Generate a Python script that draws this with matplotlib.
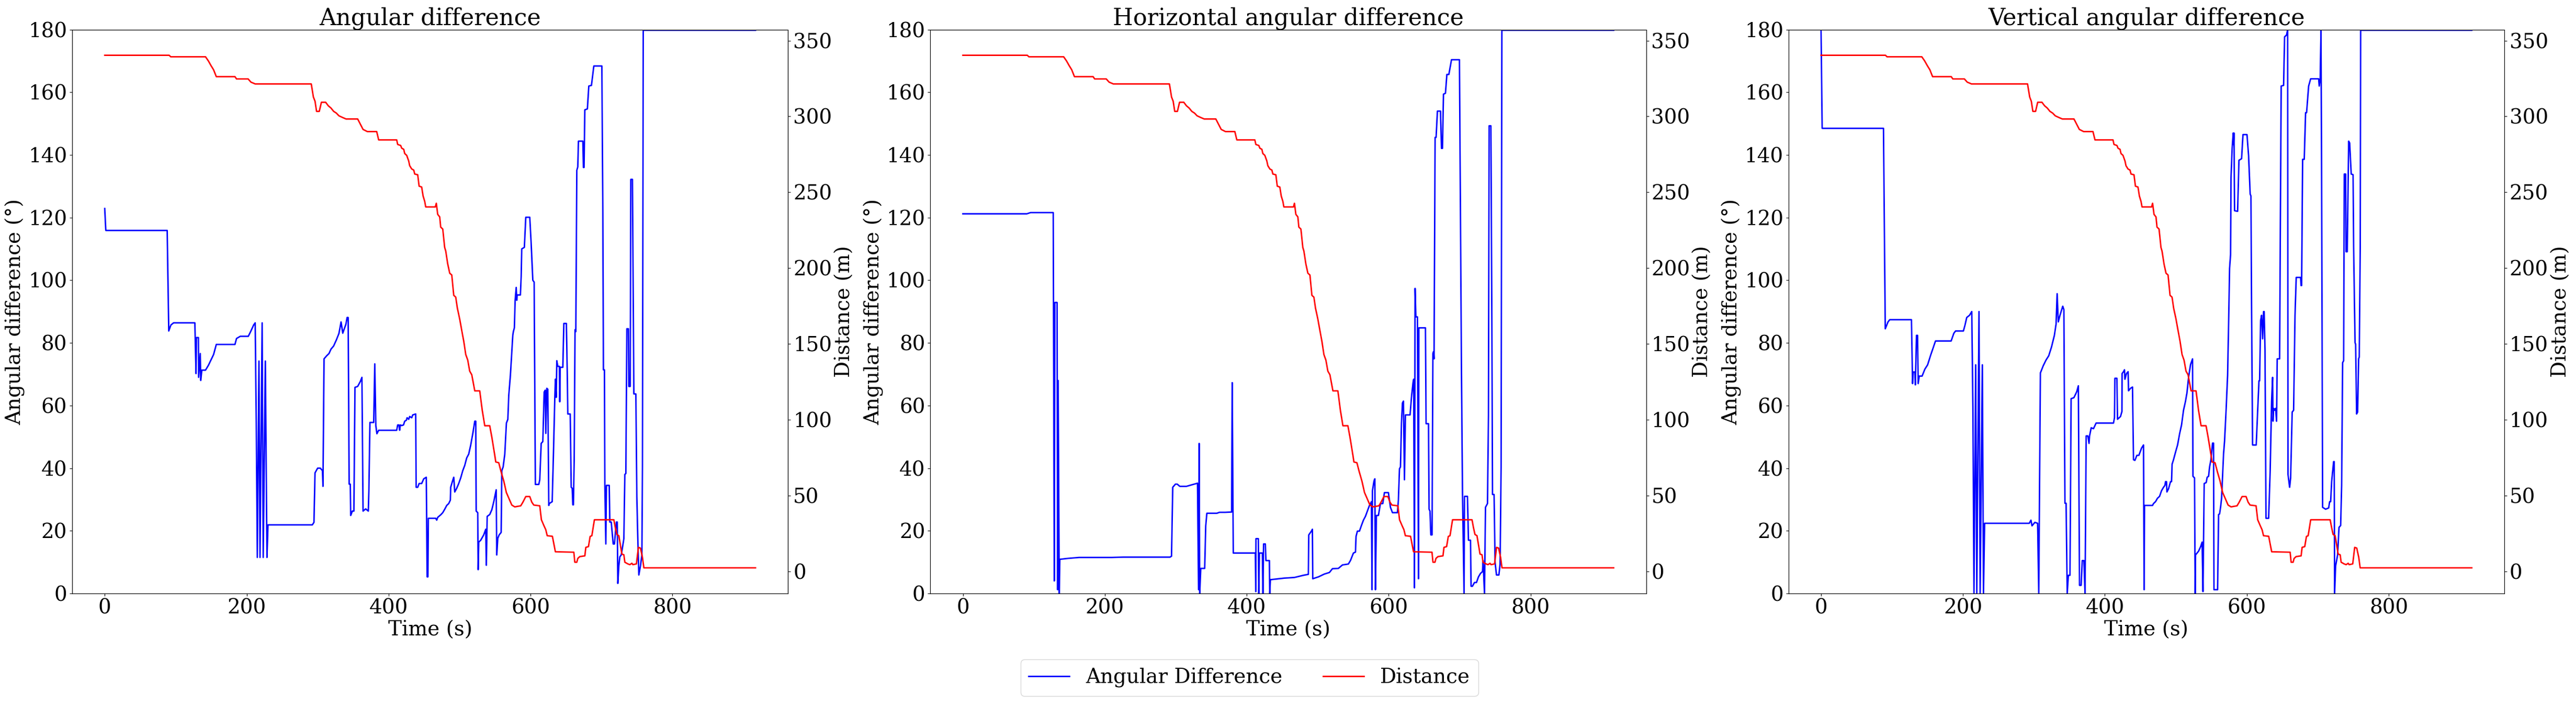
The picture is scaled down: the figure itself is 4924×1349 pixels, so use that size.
import matplotlib
matplotlib.use("Agg")
from matplotlib import pyplot as plt

plt.rcParams['font.family'] = 'serif'
plt.rcParams['font.serif'] = ['DejaVu Serif']
plt.rcParams['font.size'] = 28

# distance to target (m), same for all panels: (time s, value)
dist = [(0,340.3),(90.8,340.3),(93,339.3),(142,339.3),(146,336.6),(149.6,333.6),(153.4,330.7),(157.2,326.2),
        (183.5,326.2),(185.7,324.7),(202,324.7),(206,322.6),(212,321.4),(291,321.4),(294,312.8),(296.3,310),
        (298.5,303.3),(302.3,303.3),(305.3,309.3),(311.3,309.3),(315,307),(318.8,305.5),(322.6,303.3),(326.3,302.2),
        (330,300.4),(335,299.3),(340,298.3),(356.4,298.3),(360,295),(364,291.4),(370,290),(383.2,290),(386,284.5),
        (411.4,284.5),(412.8,281.5),(417,280.8),(418.5,279),(421.3,278.3),(422.7,275.5),(425.5,274.3),(428.3,270.6),
        (429.7,267.5),(432.6,265.3),(435.4,264.6),(436.8,262),(441,261.5),(443,254),(446.6,253.4),(448.6,247.5),
        (450.9,243.9),(452.3,240.3),(465.8,240.3),(467.2,242.7),(469.2,235.4),(472,233.7),(473.4,227),(476.3,225.7),
        (479,213.6),(480.5,211.2),(483.3,202.7),(486.1,196.6),(489,195.4),(491.8,182),(494.6,180.8),(496.9,173.5),
        (500.2,166.3),(503,159),(505.9,151.7),(508.7,143),(511.5,139.3),(514.3,132),(517.2,129.6),(521.4,119),
        (528.4,119),(532,106),(535.5,96),(542.5,96),(545.4,88.6),(549.6,76.5),(551,72.1),(555.2,71.6),(558.6,65.5),
        (562.3,59.5),(565.9,52),(569.3,48.3),(573.6,43.7),(577.8,42.5),(586.2,43.2),(589,45.4),(593.3,49.3),
        (598.9,49.3),(601.8,45.6),(604.6,43.7),(613,43.2),(615.3,34),(618.7,30.3),(621.5,27.4),(623.5,23.5),
        (630.8,23.1),(635,12.9),(661,12.6),(662.4,6),(665.2,6),(666.6,8.5),(669.4,9.7),(676.5,10.2),(677.9,15.8),
        (681.6,16.3),(684,23),(686.4,23.5),(690,34),(717.4,34),(719.4,29),(721.6,24.3),(724.4,23.5),(726.7,17),
        (728.7,11.4),(731.5,10.9),(732.9,6),(737.1,4.9),(739.9,4.4),(742.8,5.3),(744.2,4.4),(749.2,4.9),(752,15.8),
        (754.9,15.3),(757.7,9.2),(759.7,2.3),(917,2.3)]

# angular difference (deg)
ang = [(0,122.9),(1.5,115.9),(88,115.9),(90.2,83.8),(93.2,85.7),(97,86.4),(127,86.4),(128.6,70.2),(129.3,81.7),
       (132,81.7),(132.3,69),(134.6,76.6),(135.3,68),(136.8,71.3),(142,71.3),(146,72.8),(149.6,74.5),(153.4,76.3),
       (157.2,79.5),(183.5,79.5),(185.7,81.4),(191,82.1),(202.3,82.1),(206,83.8),(209.8,85.7),(212,86.4),(213.5,54.3),
       (215,11.5),(217.3,74.2),(218.8,11.5),(221.8,86.4),(223.3,11.5),(226.3,74.2),(228.6,11.5),(230,21.9),(292.5,21.9),
       (294.8,22.7),(296.3,38.5),(300,40),(303.8,40),(306.8,39.2),(307.5,34.2),(309,74.9),(312.8,75.9),(316,76.6),
       (318.8,78),(322.5,79),(326.3,80.9),(330,83),(333,86.7),(335.4,83.1),(339.9,86),(341.5,88.1),(343,88.1),
       (344.4,34.9),(346,34.9),(346.6,24.9),(348.9,26.3),(351.1,26.3),(352.6,65.8),(356.4,66.1),(360.2,67.7),
       (362.4,69),(364,26.3),(367.7,27),(371.4,26.3),(372.2,32.8),(373.7,54.6),(379,54.6),(380.5,73.3),(382,53.6),
       (383.5,51),(386,52.1),(411.4,52.1),(412.8,53.8),(414.5,53.8),(415.6,52.1),(416.5,53.8),(418.5,53.6),(421,53.8),
       (422.7,55),(425,55.3),(426.1,56.1),(428.3,55.6),(429.7,56.5),(432.6,56.1),(434,57),(438.2,57.3),(438.8,33.9),
       (441,33.9),(443,35.1),(446.6,35.1),(449.5,36.6),(453.1,37.1),(454.3,5.3),(455.4,5.3),(456,24),(466.4,24),
       (467.8,23.4),(469.2,24.3),(473.4,25.1),(476.3,25.8),(479.1,26.9),(481.9,28.1),(484.7,28.7),(487,29.8),
       (487.5,33.9),(489.8,35.7),(491.8,37.1),(493.2,32.4),(496,33.6),(498.8,35.1),(501.6,36.9),(504.5,39.2),
       (507.3,40.9),(510.1,43.3),(512.9,44.5),(515.7,47.4),(518.6,51),(521.4,55),(522.8,55),(523.4,26.3),
       (525.6,25.8),(526.2,7.6),(527,16.4),(529.8,17),(534,18.7),(536.9,20.5),(537.7,9),(538.9,24.6),(542.5,25.2),
       (545.4,26.7),(548.2,29.3),(551.6,33.1),(552.4,12.3),(553.8,17.6),(555.8,18.7),(558.6,19.5),(559.5,39.2),
       (561.4,40.4),(563.7,44.5),(566,54.4),(568,55.6),(569.3,63.2),(571.6,69.6),(575,82.4),(575.8,83.6),(577.2,84.8),
       (578.3,93.6),(579.8,97.7),(580.6,93.6),(581.2,95.3),(585.7,95.3),(586.8,101.2),(587.6,110),(591.3,110.5),
       (593.3,120.1),(598.9,120.1),(600.9,111.7),(603.2,100),(605.1,99.4),(606,63.7),(606.8,34.8),(611.6,34.8),
       (613,36.3),(615,47.9),(617.3,48.5),(619.2,64.3),(620.7,64.9),(621.5,51.1),(622.9,65.5),(624.3,65.2),
       (625.7,28.1),(626.3,28.7),(630.5,29.3),(632.2,43.9),(634.2,62.6),(635,68.4),(636.2,62.6),(637,74.3),
       (638.4,72.5),(640.7,72.5),(641.2,61.2),(641.8,72.2),(645.5,72.2),(646.9,86.2),(650.5,86.2),(651.7,70.8),
       (652.5,57.3),(655.9,57.3),(657.3,33.9),(658.7,33.6),(659.6,28.3),(660.4,28.3),(661.5,42.7),(662.7,84.2),
       (663.8,83.6),(665.2,135.1),(666.6,136.2),(667.5,144.4),(673.7,144.4),(674.5,136),(675.4,136),(676.5,154.4),
       (680.1,154.7),(682.1,162),(685.8,162.2),(689.2,168.4),(700.5,168.4),(701.9,121.6),(702.7,71.4),(704.1,71.4),
       (704.7,34.5),(706.1,15.8),(706.9,34.5),(710.9,34.5),(711.7,22.8),(713.7,22.8),(716.5,15.8),(718.2,15.8),
       (719.3,18.7),(721,22.8),(722.2,22.8),(723,3.2),(724.4,8.8),(725.8,11.7),(727.8,12.3),(729.5,14.6),
       (731.5,17.5),(732.9,38),(734.3,38.3),(735.7,84.5),(737.9,84.5),(738.5,66.1),(740.5,66.1),(741.3,132.2),
       (743.6,132.2),(745.6,63.7),(748.4,63.7),(749.8,31),(751.2,17),(752.6,5.9),(754.9,8.8),(756.9,12.3),
       (757.7,40.4),(758.8,179.8),(917,179.8)]

# horizontal angular difference (deg)
hor = [(0,121.2),(90,121.2),(95.4,121.6),(127.3,121.6),(128.8,4),(129.6,92.9),(132.7,92.9),(133.5,1.2),(134.2,68),
       (135.8,0),(136.6,10.9),(148.2,11.2),(163.7,11.5),(210,11.5),(225.8,11.6),(291.8,11.6),(294,11.9),(295.7,33.9),
       (299.5,34.9),(302,34.9),(305.7,34.2),(315,34.2),(330.6,35.2),(332.1,1.2),(332.9,47.9),(333.7,0),(335.2,8),
       (340.7,8),(342.2,21.6),(343.8,25.6),(357.7,25.6),(361.6,25.9),(369.4,25.9),(378.7,26),(379.5,67.3),(381,12.9),
       (412.1,12.9),(412.7,0.6),(413,17.5),(416.3,17.5),(416.9,0),(417.8,12.9),(422,12.9),(422.8,0),(423.7,15.8),
       (426.2,15.8),(427,10.5),(431.9,10.5),(432.4,0),(433.3,4.4),(453,4.9),(467.1,5.1),(479.8,5.8),(486.8,6.1),
       (487.4,18.7),(491.1,19.9),(492.5,20.5),(493,4.7),(501,5.3),(509.4,6.2),(516.5,6.7),(520.7,7.9),(529.1,8),
       (534.8,9.1),(543.2,9.4),(546.1,10.5),(550.3,12.9),(553.2,13.2),(554,18.2),(555.9,19.9),(558.8,19.9),
       (561.6,21.7),(564.4,23.4),(567.2,24.6),(570,26.3),(572.9,28.1),(575.7,29.3),(576.5,1.2),(577.1,32.8),
       (579.3,35.9),(580.5,36.6),(581.3,1.2),(582.7,24.9),(585.5,24.9),(588.4,28.7),(591.7,28.7),(594,32.2),
       (599.6,32.2),(602.5,27.5),(605.3,25.8),(612.3,25.8),(613.7,29.9),(615.2,39.8),(616.6,40.4),(618,54.4),
       (619.4,60.8),(620.8,61.4),(622.2,36.3),(623.6,57),(630.1,57),(632.1,62.6),(634.3,67.3),(635.2,68.4),
       (636.3,1.8),(637.2,97.4),(638.3,88.3),(640.5,88.3),(642,4.7),(642.5,84.8),(651.8,84.8),(652.7,54.2),
       (656.1,54.2),(656.9,26.9),(658.2,26.3),(659.4,18.7),(661.1,18.7),(662.3,76.6),(663.2,77.2),(663.9,74.9),
       (665.4,145.6),(666.8,145.6),(668.7,154),(673,154),(674.4,142.1),(675.8,142.1),(677.2,159.4),(680,159.7),
       (682,165.7),(684.8,165.7),(688.5,170.4),(699.7,170.4),(701.2,117.6),(702.6,70.2),(704,32.2),(706.2,0),
       (706.8,31),(711,31),(712.4,17),(715.3,17),(716.1,2.3),(718,2.3),(720.9,3.5),(723.7,3.5),(726.5,5.3),
       (729.4,6.4),(732.2,7),(733,10.5),(735,0),(736.4,27.5),(739.2,28.7),(740.6,56.8),(741.5,149.3),(744,149.3),
       (745.4,87.1),(746.3,31.6),(748.5,31.6),(749.9,10),(751.9,5.9),(755.3,5.9),(757,9.4),(758.4,40.4),
       (759.5,179.8),(917,179.8)]

# vertical angular difference (deg)
ver = [(0,180),(1.6,148.5),(88,148.5),(90.5,84.5),(94.4,86.7),(96.8,87.4),(127.4,87.4),(129,67),(129.8,70.7),
       (132.1,70.7),(132.9,66.6),(134.5,82.4),(136,82.4),(136.9,67),(138.4,69.4),(142.4,69.4),(146.3,71.6),
       (150.2,73),(154.2,75.9),(158.1,78.5),(161.3,80.6),(183.3,80.6),(187.2,83.1),(189.6,83.8),(200.6,83.8),
       (202.9,85.7),(205.3,88.1),(209.2,88.8),(212.4,90),(214,59.4),(215.5,0),(217.9,73),(219.5,0),(222.6,90),
       (224.2,0),(227.3,73),(228.9,0),(230.5,22.4),(293.4,22.4),(295.8,23.4),(297.3,21.6),(301.3,22.7),(305.2,22.4),
       (306.8,0),(309.1,70.4),(313.1,72.7),(317,74.5),(320.9,75.9),(324.9,78.8),(328.8,82.4),(331.2,86),(332.7,95.7),
       (334.3,86.7),(336.7,88.8),(340.6,91.7),(342.2,90.6),(343.7,28.8),(345.3,28.8),(346.9,0),(348.5,5.8),
       (350.8,5.8),(352.4,62.2),(356.3,62.5),(360.3,64.4),(362.6,66.3),(364.2,2.6),(366.5,2.6),(368.1,10.5),
       (370.4,10.5),(372,0),(373.6,50.3),(376,50.3),(377.6,47.9),(378.4,50.3),(380.7,52.9),(383.9,52.6),(387.6,54.4),
       (412.1,54.4),(413.5,56.1),(414.1,68.7),(416.9,68.7),(417.8,55.6),(422,56.5),(424,58.1),(424.2,70.2),
       (426.2,70.8),(427.6,71.4),(428.2,68.4),(430.4,70.2),(432.7,70.8),(433.3,64.7),(436.1,65.5),(438.9,65.9),
       (440.3,42.7),(442.3,42.5),(445.1,44.1),(447.9,44.1),(451.6,46.4),(454.4,47.4),(455.3,1.2),(455.8,28.1),
       (467.1,28.1),(468.5,28.7),(471.3,29.3),(474.1,30.4),(477,31),(479.8,32.8),(482.6,33.9),(484.6,34.5),
       (485.4,35.7),(486.8,35.7),(487.4,32.4),(489.6,33.4),(492.5,35.7),(493.9,35.7),(494.7,41.3),(496.7,42.7),
       (499.5,45.1),(502.4,47.4),(505.2,50.9),(508,53.8),(510.8,58.5),(513.6,61.4),(515.6,64),(517.9,69),
       (520.7,73.1),(523.5,74.9),(524.1,37.4),(526.3,36.9),(527.2,0),(527.7,12.3),(532,13.5),(534.8,14.9),
       (537,16.4),(538.2,0.6),(539.9,35.1),(542.7,35.4),(544.1,37.1),(546.1,37.4),(547.5,40.4),(549.4,42.7),
       (551.7,48),(553.1,48),(553.7,1.2),(558.8,1.2),(560.2,25.2),(561.6,25.4),(563,27.5),(564.4,30.4),(567.2,44.5),
       (568.6,48.6),(570.9,59.1),(572.9,69.6),(574.3,86),(575.7,103.8),(577.1,108.2),(577.7,132.8),(579.3,142.1),
       (580.8,147),(581.3,143.3),(581.9,147),(582.7,122.2),(587,122),(588.9,138.3),(592.6,138.8),(594.6,146.5),
       (600.2,146.5),(602.5,139.7),(604.7,127.5),(605.8,126.9),(606.7,90.7),(608.1,47.4),(613.2,47.4),(615.2,57.9),
       (617.1,67.9),(618,67.9),(619.4,87.1),(620.8,88.8),(622.2,81.3),(623.6,90),(624.4,90),(625.6,77.8),(627,24),
       (630.7,24),(632.9,39.2),(634.9,61.4),(636.3,69),(636.9,55),(637.7,59.1),(639.1,58.5),(640.5,59.1),(641.9,55),
       (642.8,74.9),(646.2,74.9),(647.6,132.7),(648.4,162),(651.8,162.2),(653.2,177.7),(656,178.3),(657.5,180),
       (658,38),(660.3,33.9),(661.7,36.9),(663.9,57.9),(665.9,58.5),(667.9,88.8),(669.6,100.9),(675.8,100.9),
       (676.4,98.3),(677.2,98.3),(678.6,138.6),(680.9,138.6),(682.8,153.5),(684.2,153.5),(687.1,162),(689.9,164.3),
       (701.2,164.3),(702,162),(703.4,164.3),(704.5,180),(705.4,129.8),(706.8,27.5),(711,26.9),(715.3,27.3),
       (716.7,29.3),(718.1,29.3),(719.5,35.7),(722.3,42.1),(723.1,42.1),(723.7,0),(725.1,8.8),(727.9,12.3),
       (729.9,21.1),(732.2,21.7),(733.6,34.5),(735,73.7),(736.4,74.3),(737.3,133.9),(739.2,133.9),(739.8,109.1),
       (741.5,109.1),(743.5,144.4),(744.9,143.8),(747.1,133.9),(749.7,133.7),(750.5,110.5),(752.5,80.1),
       (753.3,79.5),(754.7,57.3),(756.1,57.9),(757.5,74.9),(758.4,75.5),(759.8,110.5),(760.4,179.8),(917,179.8)]

titles = ["Angular difference", "Horizontal angular difference", "Vertical angular difference"]
series = [ang, hor, ver]

dist_t = [p[0] for p in dist]
dist_v = [p[1] for p in dist]

fig = plt.figure(figsize=(49.24, 13.49), dpi=100)
fig.subplots_adjust(left=0.02803, right=0.97218, top=0.958, bottom=0.1594, wspace=0.1988)

for i in range(3):
    ax = fig.add_subplot(1, 3, i + 1)
    t = [p[0] for p in series[i]]
    v = [p[1] for p in series[i]]
    l1, = ax.plot(t, v, color='b', linewidth=2, label='Angular Difference')
    ax.set_ylim(0, 180)
    ax.set_xlabel("Time (s)")
    ax.set_ylabel("Angular difference (°)")
    ax.set_title(titles[i], fontsize=32)
    ax2 = ax.twinx()
    l2, = ax2.plot(dist_t, dist_v, color='r', linewidth=2, label='Distance')
    ax2.set_ylabel("Distance (m)")

fig.legend(handles=[l1, l2], loc='lower center', ncol=2, bbox_to_anchor=(0.485, 0.0))

fig.savefig("out.png", dpi=100)
